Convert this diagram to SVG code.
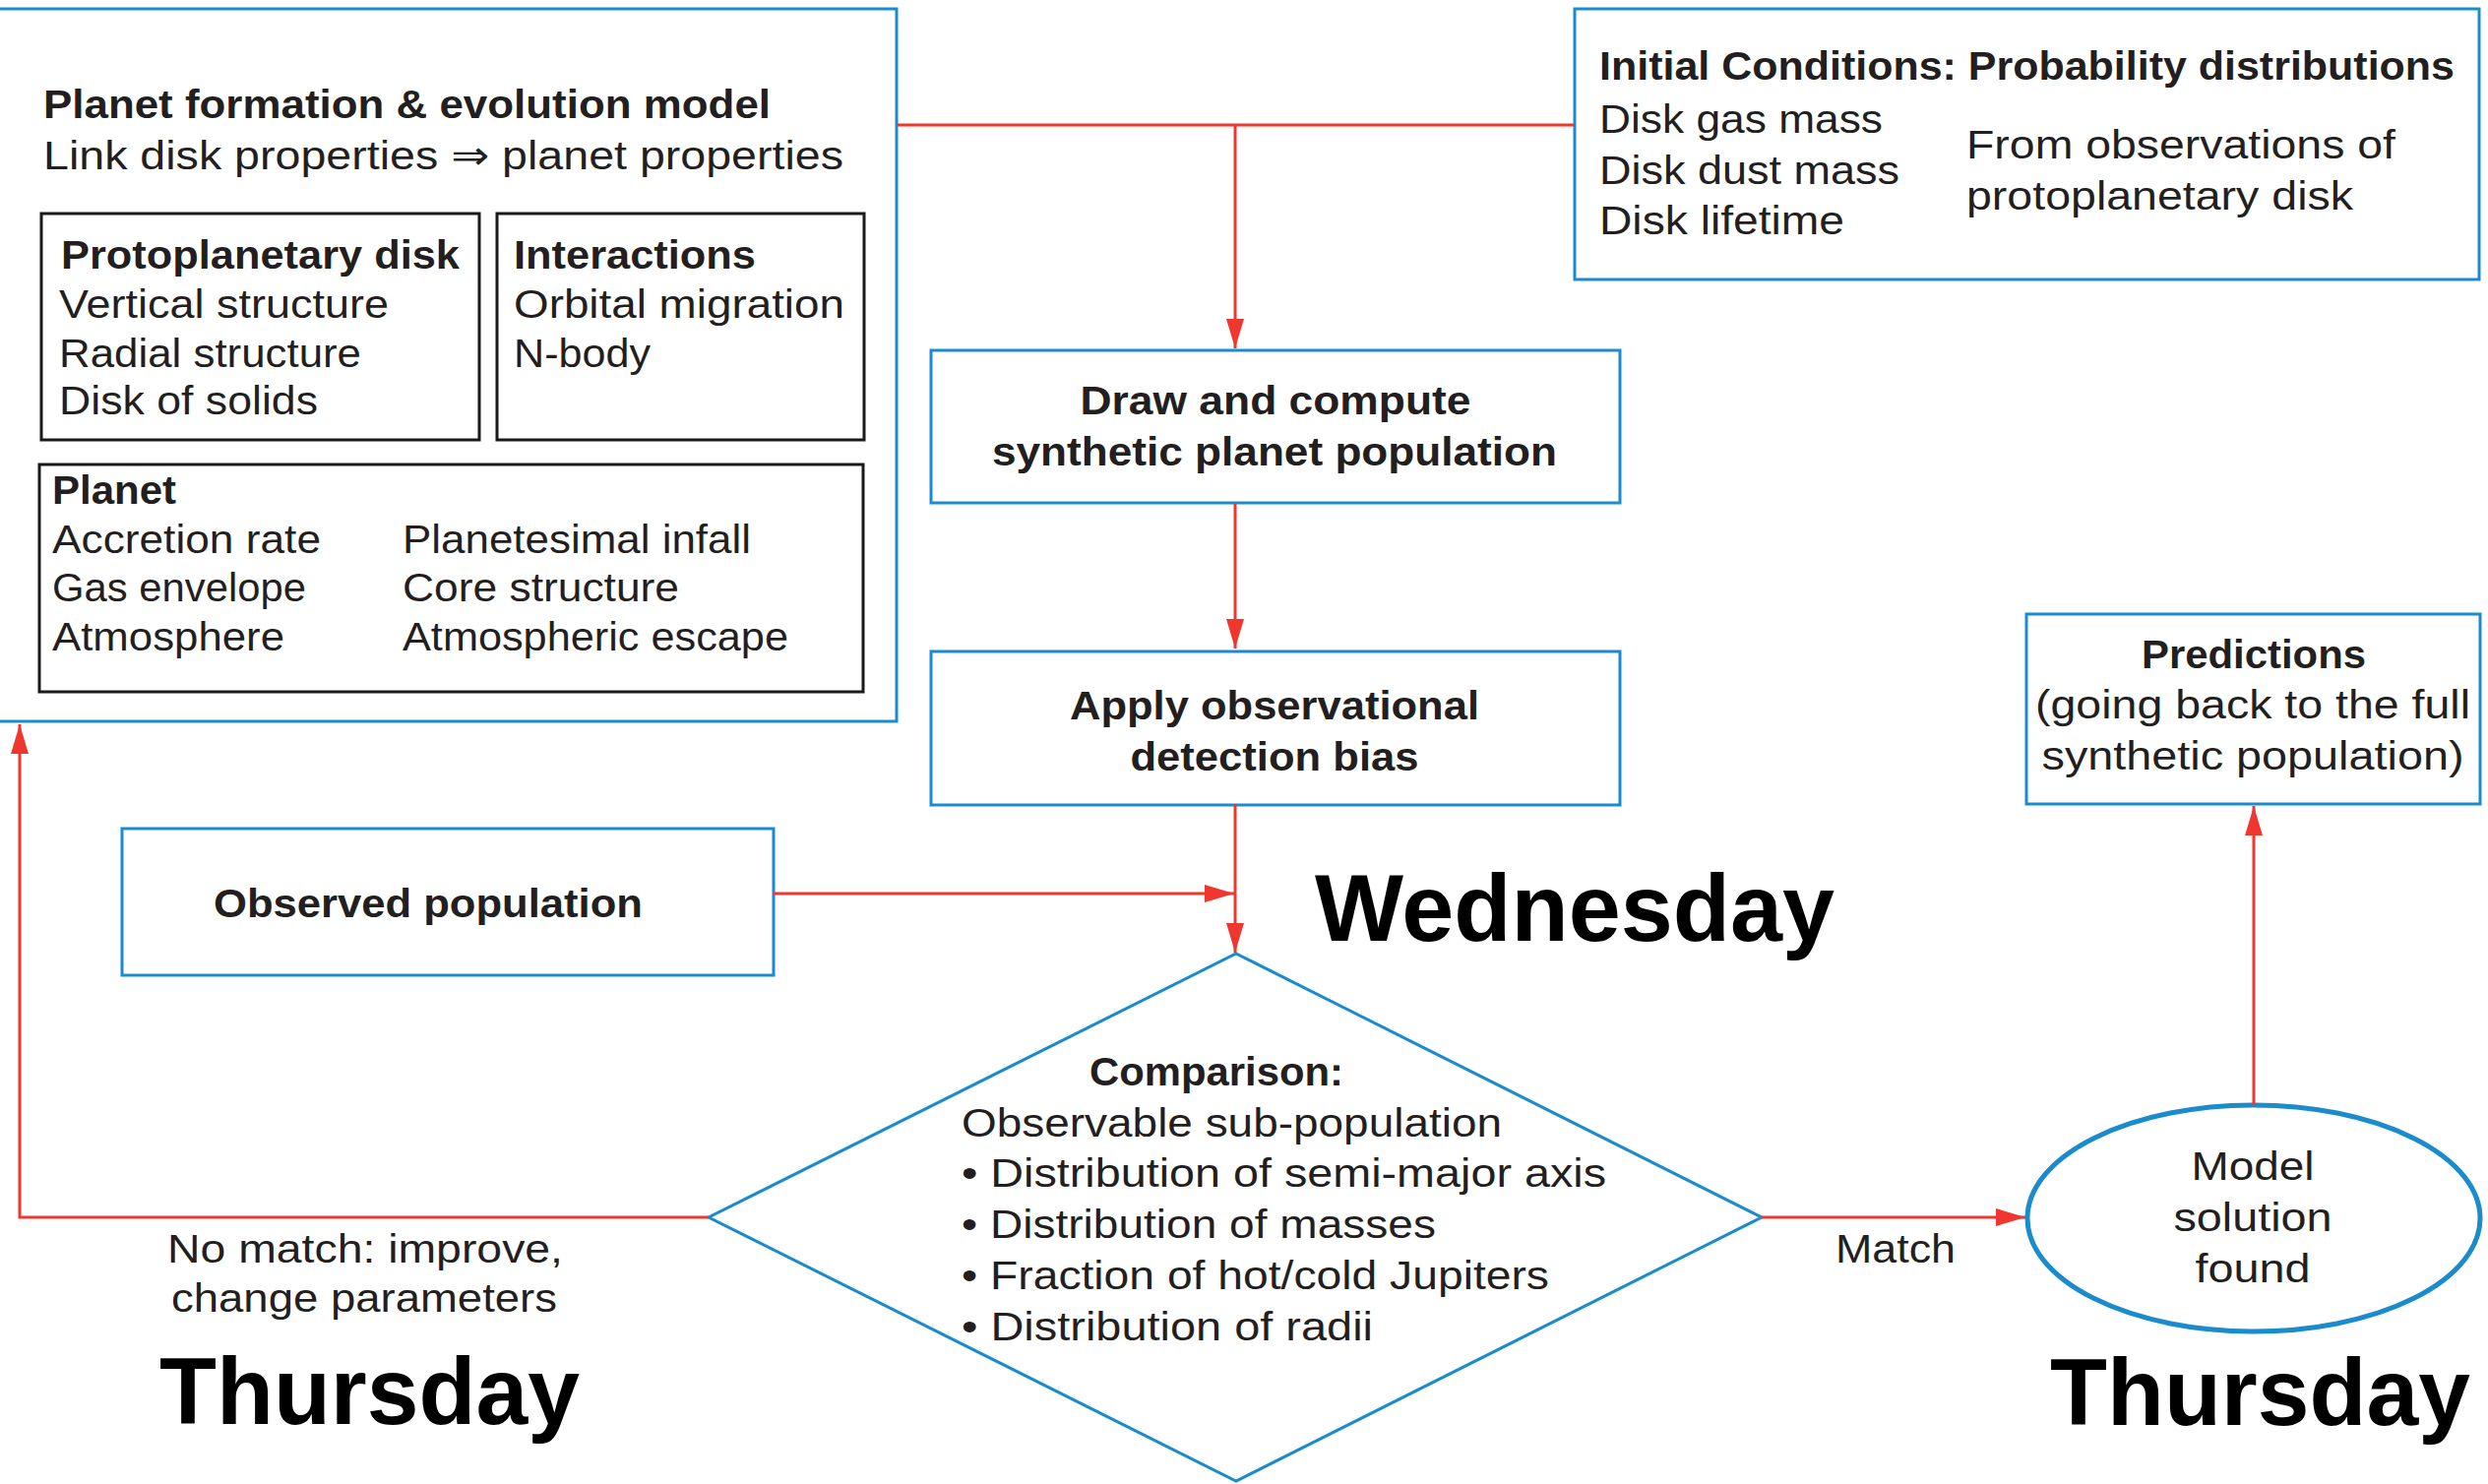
<svg xmlns="http://www.w3.org/2000/svg" width="2528" height="1508" viewBox="0 0 2528 1508">
<defs>
<marker id="ah" markerUnits="userSpaceOnUse" markerWidth="30" markerHeight="18" refX="30" refY="9" orient="auto">
<path d="M0,0 L30,9 L0,18 Z" fill="#f0372f"/>
</marker>
<style>
.bx{fill:none;stroke:#1a8bcc;stroke-width:3}
.kb{fill:none;stroke:#1a1a1a;stroke-width:3}
.t{font-family:"Liberation Sans","DejaVu Sans",sans-serif;font-size:41px;fill:#231f20}
.b{font-weight:bold}
.m{text-anchor:middle}
.big{font-family:"Liberation Sans","DejaVu Sans",sans-serif;font-size:96px;font-weight:bold;fill:#000}
.c{fill:none;stroke:#f0372f;stroke-width:3}
.ca{fill:none;stroke:#f0372f;stroke-width:3;marker-end:url(#ah)}
</style>
</defs>
<rect width="2528" height="1508" fill="#fff"/>

<g id="model">
<rect class="bx" x="-4" y="9" width="915" height="724"/>
<text class="t b" x="44" y="120" textLength="739" lengthAdjust="spacingAndGlyphs" font-size="39">Planet formation &amp; evolution model</text>
<text class="t" x="44" y="172" textLength="813" lengthAdjust="spacingAndGlyphs" font-size="40">Link disk properties ⇒ planet properties</text>
</g>
<g id="protodisk">
<rect class="kb" x="42" y="217" width="445" height="230"/>
<text class="t b" x="62" y="273" textLength="405" lengthAdjust="spacingAndGlyphs" font-size="40">Protoplanetary disk</text>
<text class="t" x="60" y="323" textLength="335" lengthAdjust="spacingAndGlyphs" font-size="40">Vertical structure</text>
<text class="t" x="60" y="373" textLength="307" lengthAdjust="spacingAndGlyphs" font-size="40">Radial structure</text>
<text class="t" x="60" y="421" textLength="263" lengthAdjust="spacingAndGlyphs" font-size="40">Disk of solids</text>
</g>
<g id="interactions">
<rect class="kb" x="505" y="217" width="373" height="230"/>
<text class="t b" x="522" y="273" textLength="246" lengthAdjust="spacingAndGlyphs" font-size="40">Interactions</text>
<text class="t" x="522" y="323" textLength="336" lengthAdjust="spacingAndGlyphs" font-size="40">Orbital migration</text>
<text class="t" x="522" y="373" textLength="139" lengthAdjust="spacingAndGlyphs" font-size="40">N-body</text>
</g>
<g id="planet">
<rect class="kb" x="40" y="472" width="837" height="231"/>
<text class="t b" x="53" y="512" textLength="126" lengthAdjust="spacingAndGlyphs" font-size="40">Planet</text>
<text class="t" x="53" y="562" textLength="273" lengthAdjust="spacingAndGlyphs" font-size="40">Accretion rate</text>
<text class="t" x="53" y="611" textLength="258" lengthAdjust="spacingAndGlyphs" font-size="40">Gas envelope</text>
<text class="t" x="53" y="661" textLength="236" lengthAdjust="spacingAndGlyphs" font-size="40">Atmosphere</text>
<text class="t" x="409" y="562" textLength="354" lengthAdjust="spacingAndGlyphs" font-size="40">Planetesimal infall</text>
<text class="t" x="409" y="611" textLength="281" lengthAdjust="spacingAndGlyphs" font-size="40">Core structure</text>
<text class="t" x="409" y="661" textLength="392" lengthAdjust="spacingAndGlyphs" font-size="40">Atmospheric escape</text>
</g>

<g id="initial">
<rect class="bx" x="1600" y="9" width="919" height="275"/>
<text class="t b" x="1625" y="81" textLength="869" lengthAdjust="spacingAndGlyphs">Initial Conditions: Probability distributions</text>
<text class="t" x="1625" y="135" textLength="288" lengthAdjust="spacingAndGlyphs">Disk gas mass</text>
<text class="t" x="1625" y="187" textLength="305" lengthAdjust="spacingAndGlyphs">Disk dust mass</text>
<text class="t" x="1625" y="238" textLength="249" lengthAdjust="spacingAndGlyphs">Disk lifetime</text>
<text class="t" x="1998" y="161" textLength="436" lengthAdjust="spacingAndGlyphs">From observations of</text>
<text class="t" x="1998" y="213" textLength="393" lengthAdjust="spacingAndGlyphs">protoplanetary disk</text>
</g>

<g id="draw">
<rect class="bx" x="946" y="356" width="700" height="155"/>
<text class="t b m" x="1296" y="421" textLength="397" lengthAdjust="spacingAndGlyphs">Draw and compute</text>
<text class="t b m" x="1295" y="473" textLength="574" lengthAdjust="spacingAndGlyphs">synthetic planet population</text>
</g>

<g id="bias">
<rect class="bx" x="946" y="662" width="700" height="156"/>
<text class="t b m" x="1295" y="731" textLength="416" lengthAdjust="spacingAndGlyphs">Apply observational</text>
<text class="t b m" x="1295" y="783" textLength="293" lengthAdjust="spacingAndGlyphs">detection bias</text>
</g>

<g id="observed">
<rect class="bx" x="124" y="842" width="662" height="149"/>
<text class="t b" x="217" y="932" textLength="436" lengthAdjust="spacingAndGlyphs">Observed population</text>
</g>

<g id="comparison">
<polygon class="bx" points="1256,969 1790,1237 1256,1505 720,1237"/>
<text class="t b" x="1107" y="1103" textLength="258" lengthAdjust="spacingAndGlyphs">Comparison:</text>
<text class="t" x="977" y="1155" textLength="549" lengthAdjust="spacingAndGlyphs">Observable sub-population</text>
<text class="t" x="977" y="1206" textLength="655" lengthAdjust="spacingAndGlyphs">• Distribution of semi-major axis</text>
<text class="t" x="977" y="1258" textLength="482" lengthAdjust="spacingAndGlyphs">• Distribution of masses</text>
<text class="t" x="977" y="1310" textLength="597" lengthAdjust="spacingAndGlyphs">• Fraction of hot/cold Jupiters</text>
<text class="t" x="977" y="1362" textLength="418" lengthAdjust="spacingAndGlyphs">• Distribution of radii</text>
</g>

<g id="predictions">
<rect class="bx" x="2059" y="624" width="461" height="193"/>
<text class="t b m" x="2290" y="679" textLength="228" lengthAdjust="spacingAndGlyphs">Predictions</text>
<text class="t m" x="2289" y="730" textLength="442" lengthAdjust="spacingAndGlyphs">(going back to the full</text>
<text class="t m" x="2289" y="782" textLength="429" lengthAdjust="spacingAndGlyphs">synthetic population)</text>
</g>

<g id="solution">
<ellipse cx="2290" cy="1238" rx="230" ry="115" fill="none" stroke="#1a8bcc" stroke-width="5"/>
<text class="t m" x="2289" y="1199" textLength="125" lengthAdjust="spacingAndGlyphs">Model</text>
<text class="t m" x="2289" y="1251" textLength="161" lengthAdjust="spacingAndGlyphs">solution</text>
<text class="t m" x="2289" y="1303" textLength="117" lengthAdjust="spacingAndGlyphs">found</text>
</g>

<g id="connectors">
<path class="c" d="M911,127 H1600"/>
<path class="ca" d="M1255,127 V354"/>
<path class="ca" d="M1255,511 V659"/>
<path class="ca" d="M1255,818 V968"/>
<path class="ca" d="M786,908 H1254"/>
<path class="ca" d="M720,1237 H20 V736"/>
<path class="ca" d="M1790,1237 H2058"/>
<path class="ca" d="M2290,1123 V819"/>
<text class="t" x="1865" y="1283" textLength="122" lengthAdjust="spacingAndGlyphs">Match</text>
<text class="t" x="170" y="1283" textLength="402" lengthAdjust="spacingAndGlyphs">No match: improve,</text>
<text class="t" x="174" y="1333" textLength="392" lengthAdjust="spacingAndGlyphs">change parameters</text>
</g>

<g id="labels">
<text class="big" x="1336" y="956" textLength="528" lengthAdjust="spacingAndGlyphs">Wednesday</text>
<text class="big" x="162" y="1447" textLength="427" lengthAdjust="spacingAndGlyphs">Thursday</text>
<text class="big" x="2083" y="1448" textLength="427" lengthAdjust="spacingAndGlyphs">Thursday</text>
</g>
</svg>
